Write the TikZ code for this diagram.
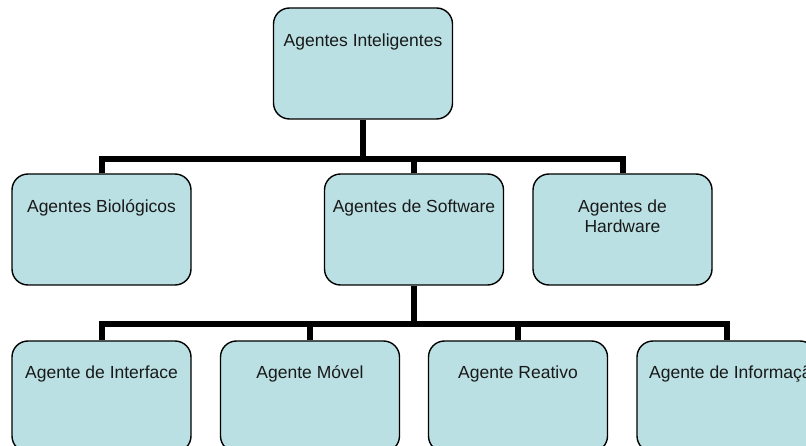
\documentclass[tikz,border=0pt]{standalone}
\usepackage{fontspec}
\setmainfont{Liberation Sans}
\definecolor{boxfill}{RGB}{186,224,227}
\tikzset{
  agentbox/.style={draw=black, line width=1.4pt, fill=boxfill, rounded corners=16pt,
    minimum width=179pt, minimum height=111pt, inner sep=0pt},
  agenttext/.style={font=\fontsize{17.5}{20}\selectfont, inner sep=0pt, anchor=base, align=center, text=black!90},
  conn/.style={line width=6pt, line join=miter, draw=black}
}
\begin{document}
\begin{tikzpicture}[x=1pt, y=-1pt]
  \clip (0,0) rectangle (806,446);
  \fill[white] (0,0) rectangle (806,446);

  % heights of the two horizontal buses
  \coordinate (busA) at (0,159);
  \coordinate (busB) at (0,324);

  % top level
  \node[agentbox] (ai) at (363,63.5) {};
  % second level
  \node[agentbox] (bio) at (101.5,229.5) {};
  \node[agentbox] (sw)  at (414,229.5) {};
  \node[agentbox] (hw)  at (622.5,229.5) {};
  % third level
  \node[agentbox] (itf) at (101.5,396.5) {};
  \node[agentbox] (mov) at (310,396.5) {};
  \node[agentbox] (rea) at (518,396.5) {};
  \node[agentbox] (inf) at (726.5,396.5) {};

  % first bus
  \draw[conn] (ai.south) -- (ai.south |- busA);
  \draw[conn] (bio.north) -- (bio.north |- busA) -- (hw.north |- busA) -- (hw.north);
  \draw[conn] (sw.north) -- (sw.north |- busA);
  % second bus
  \draw[conn] (sw.south) -- (sw.south |- busB);
  \draw[conn] (itf.north) -- (itf.north |- busB) -- (inf.north |- busB) -- (inf.north);
  \draw[conn] (mov.north) -- (mov.north |- busB);
  \draw[conn] (rea.north) -- (rea.north |- busB);

  % labels
  \node[agenttext] (tai)  at ([yshift=-39pt]ai.north)  {Agentes Inteligentes};
  \node[agenttext] (tbio) at ([yshift=-39pt]bio.north) {Agentes Biológicos};
  \node[agenttext] (tsw)  at ([yshift=-39pt]sw.north)  {Agentes de Software};
  \node[agenttext] (thw)  at ([yshift=-59pt]hw.north)  {Agentes de\\Hardware};
  \node[agenttext] (titf) at ([yshift=-38pt]itf.north) {Agente de Interface};
  \node[agenttext] (tmov) at ([yshift=-38pt]mov.north) {Agente Móvel};
  \node[agenttext] (trea) at ([yshift=-38pt]rea.north) {Agente Reativo};
  \node[agenttext, anchor=base west] (tinf) at ([xshift=-77.5pt,yshift=-38pt]inf.north) {Agente de Informação};
\end{tikzpicture}
\end{document}
